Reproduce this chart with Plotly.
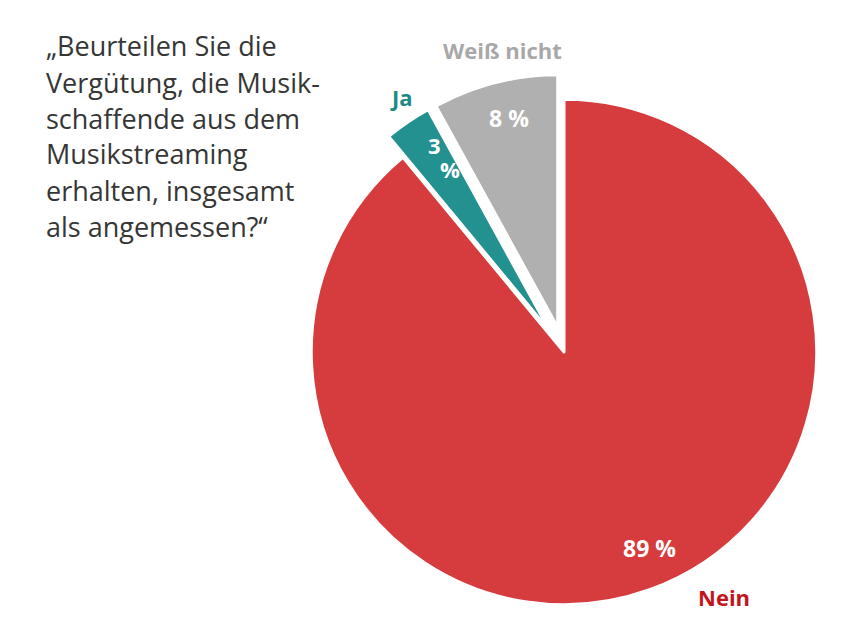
import plotly.graph_objects as go

categories = ["Nein", "Ja", "Weiß nicht"]
values = [89, 3, 8]
colors = ["#d63c3e", "#23918f", "#b0b0b0"]
label_colors = ["#c3161c", "#1d8a88", "#a8a8a8"]
pulls = [0, 0.1, 0.1]
question_lines = ["„Beurteilen Sie die", "Vergütung, die Musik-", "schaffende aus dem",
                  "Musikstreaming", "erhalten, insgesamt", "als angemessen?“"]

W, H = 850, 638
FONT = "Open Sans"

cx, cy, size = 556, 344, 556
fig = go.Figure(go.Pie(
    labels=categories,
    values=values,
    textinfo="none",
    marker=dict(colors=colors, line=dict(color="white", width=3)),
    pull=pulls,
    sort=False,
    direction="clockwise",
    rotation=0,
    showlegend=False,
    hoverinfo="label+percent",
    domain=dict(x=[(cx - size / 2) / W, (cx + size / 2) / W],
                y=[1 - (cy + size / 2) / H, 1 - (cy - size / 2) / H]),
))

def ann(px, py, text, color, size=22, bold=True):
    fig.add_annotation(x=px / W, y=1 - py / H, xref="paper", yref="paper",
                       text=text, showarrow=False,
                       font=dict(family=FONT, size=size, color=color,
                                 weight="bold" if bold else "normal"),
                       xanchor="center", yanchor="middle")

# category labels
label_pos = [(716, 589), (393, 89), (494, 42)]
for cat, col, (px, py) in zip(categories, label_colors, label_pos):
    ann(px, py, cat, col)

# percentage labels
ann(641, 540, f"{values[0]} %", "white", 23)
ann(426, 137, f"{values[1]}", "white", 22)
ann(442, 161, "%", "white", 22)
ann(501, 110, f"{values[2]} %", "white", 23)

for i, line in enumerate(question_lines):
    fig.add_annotation(x=36 / W, y=1 - (38 + 36 * i) / H, xref="paper", yref="paper",
                       text=line, showarrow=False, align="left",
                       xanchor="left", yanchor="middle",
                       font=dict(family=FONT, size=27, color="#363636"))

fig.update_layout(width=W, height=H, margin=dict(l=0, r=0, t=0, b=0),
                  paper_bgcolor="white", plot_bgcolor="white")

fig.write_html("out.html")
